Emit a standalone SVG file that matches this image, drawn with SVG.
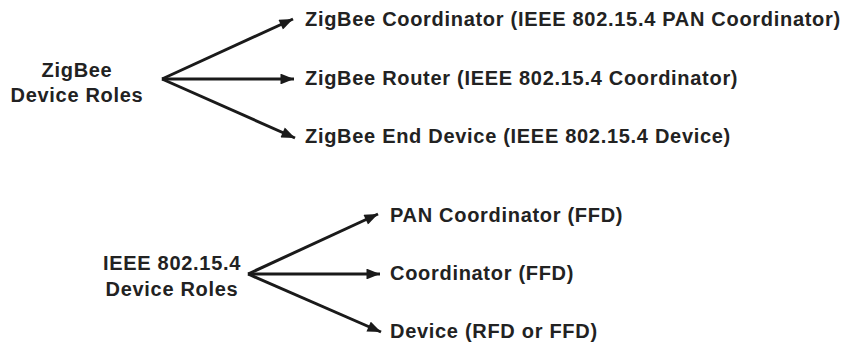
<svg xmlns="http://www.w3.org/2000/svg" width="845" height="344" viewBox="0 0 845 344">
<style>
text{font-family:"Liberation Sans",Arial,sans-serif;font-weight:bold;font-size:20px;letter-spacing:0.7px;fill:#222}
.c{text-anchor:middle}
.ln{stroke:#1a1a1a;stroke-width:3;fill:none}
</style>
<defs>
<marker id="ah" viewBox="0 0 10 8" refX="10" refY="4" markerWidth="5" markerHeight="3.6" orient="auto" markerUnits="strokeWidth">
<path d="M0,0 L10,4 L0,8 Z" fill="#1a1a1a"/>
</marker>
</defs>
<rect width="845" height="344" fill="#fff"/>
<g id="connectors">
<line class="ln" x1="162" y1="79" x2="293" y2="19" marker-end="url(#ah)"/>
<line class="ln" x1="162" y1="79" x2="294" y2="79" marker-end="url(#ah)"/>
<line class="ln" x1="162" y1="79" x2="295" y2="138" marker-end="url(#ah)"/>
<line class="ln" x1="248" y1="274" x2="378" y2="214" marker-end="url(#ah)"/>
<line class="ln" x1="248" y1="274" x2="380" y2="274" marker-end="url(#ah)"/>
<line class="ln" x1="248" y1="274" x2="381" y2="332" marker-end="url(#ah)"/>
</g>
<g id="zigbee-roles"><text class="c" x="77" y="77">ZigBee</text><text class="c" x="77" y="102">Device Roles</text></g>
<g id="zb-coordinator"><text x="305" y="26">ZigBee Coordinator (IEEE 802.15.4 PAN Coordinator)</text></g>
<g id="zb-router"><text x="305" y="85">ZigBee Router (IEEE 802.15.4 Coordinator)</text></g>
<g id="zb-end"><text x="305" y="143">ZigBee End Device (IEEE 802.15.4 Device)</text></g>
<g id="ieee-roles"><text class="c" x="172" y="270">IEEE 802.15.4</text><text class="c" x="172" y="296">Device Roles</text></g>
<g id="pan-coordinator"><text x="390" y="222">PAN Coordinator (FFD)</text></g>
<g id="coordinator"><text x="390" y="280">Coordinator (FFD)</text></g>
<g id="device"><text x="390" y="338">Device (RFD or FFD)</text></g>
</svg>
